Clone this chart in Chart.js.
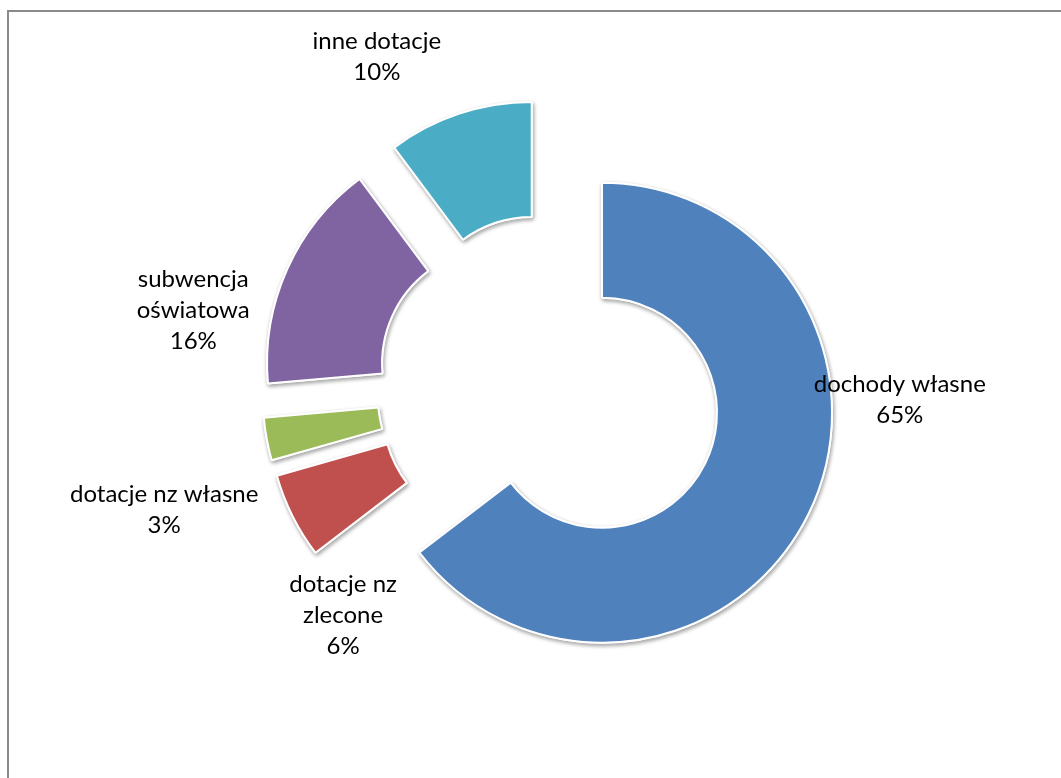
<!DOCTYPE html>
<html lang="pl">
<head>
<meta charset="UTF-8">
<title>Struktura dochodów</title>
<script src="https://cdn.jsdelivr.net/npm/chart.js"></script>
<style>
  html, body { margin: 0; padding: 0; background: #fff; overflow: hidden; }
  /* frame of the chart area, only its left and top edges are in view */
  .frame {
    position: absolute; left: 7px; top: 10px; width: 1200px; height: 900px;
    border-left: 2px solid #8a8a8a; border-top: 2px solid #8a8a8a;
  }
  #chart { position: absolute; left: 0; top: 0; }
</style>
</head>
<body>
<div class="frame"></div>
<canvas id="chart" width="1061" height="778"></canvas>
<script>
const categories = ['dochody własne', 'dotacje nz zlecone', 'dotacje nz własne', 'subwencja oświatowa', 'inne dotacje'];
const shares = [64.6, 6.0, 3.0, 16.2, 10.2];
const colors = ['#4F81BD', '#C0504D', '#9BBB59', '#8064A2', '#4BACC6'];

// how far every slice is pulled out of the ring
const EXPLODE = 58;

// Chart.js' own offset only moves a slice by a quarter and also grows it,
// so translate the whole slice along its bisector instead
const baseArcDraw = Chart.ArcElement.prototype.draw;
Chart.ArcElement.prototype.draw = function (ctx, area) {
  const mid = (this.startAngle + this.endAngle) / 2;
  ctx.save();
  ctx.translate(Math.cos(mid) * EXPLODE, Math.sin(mid) * EXPLODE);
  ctx.save();
  ctx.shadowColor = 'rgba(0, 0, 0, 0.35)';
  ctx.shadowBlur = 4;
  ctx.shadowOffsetX = 1;
  ctx.shadowOffsetY = 2;
  baseArcDraw.call(this, ctx, area);
  ctx.restore();
  baseArcDraw.call(this, ctx, area); // second pass hides the shadow inside the slice
  ctx.restore();
};

function wrapText(ctx, text, maxWidth) {
  const words = text.split(' ');
  const lines = [];
  let line = '';
  words.forEach(w => {
    const test = line ? line + ' ' + w : w;
    if (line && ctx.measureText(test).width > maxWidth) {
      lines.push(line);
      line = w;
    } else {
      line = test;
    }
  });
  lines.push(line);
  return lines;
}

// category name + percent placed round the ring
const sliceLabels = {
  id: 'sliceLabels',
  afterDatasetsDraw(chart, args, opts) {
    const meta = chart.getDatasetMeta(0);
    const ctx = chart.ctx;
    const total = shares.reduce((a, b) => a + b, 0);
    ctx.save();
    ctx.font = opts.font;
    ctx.fillStyle = opts.color;
    ctx.textAlign = 'center';
    ctx.textBaseline = 'middle';
    meta.data.forEach((arc, i) => {
      const place = opts.placement[i];
      const a = place.angle * Math.PI / 180;
      const cx = arc.x + Math.sin(a) * place.dist;
      const cy = arc.y - Math.cos(a) * place.dist;
      const lines = wrapText(ctx, categories[i], place.width);
      lines.push(Math.round(shares[i] / total * 100) + '%');
      lines.forEach((t, k) => {
        ctx.fillText(t, cx, cy + (k - (lines.length - 1) / 2) * opts.lineHeight);
      });
    });
    ctx.restore();
  }
};

new Chart(document.getElementById('chart'), {
  type: 'doughnut',
  data: {
    labels: categories,
    datasets: [{
      data: shares,
      backgroundColor: colors,
      borderColor: '#ffffff',
      borderWidth: 2
    }]
  },
  options: {
    responsive: false,
    animation: false,
    radius: 230,
    cutout: '50%',
    layout: { padding: { left: 100, right: 61, top: 100, bottom: 104 } },
    events: [],
    plugins: {
      legend: { display: false },
      tooltip: { enabled: false },
      sliceLabels: {
        font: '24px Lato',
        color: '#000',
        lineHeight: 31,
        // angle in degrees clockwise from 12 o'clock, distance from ring centre
        placement: [
          { angle: 92.1, dist: 350, width: 220 },
          { angle: 222.2, dist: 308, width: 130 },
          { angle: 252.3, dist: 405, width: 240 },
          { angle: 282.2, dist: 365, width: 130 },
          { angle: 332.3, dist: 372.5, width: 220 }
        ]
      }
    }
  },
  plugins: [sliceLabels]
});
</script>
</body>
</html>
